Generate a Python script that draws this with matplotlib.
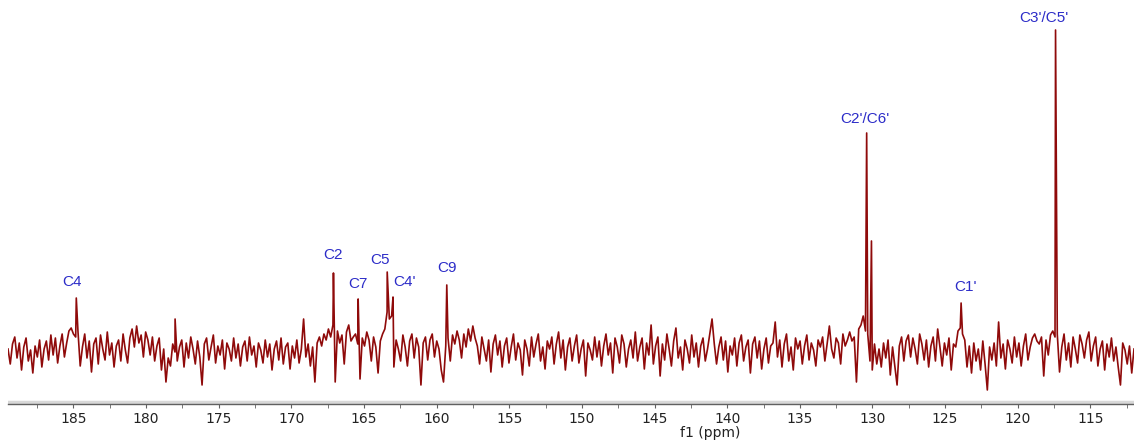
import numpy as np
import matplotlib
matplotlib.use('Agg')
import matplotlib.pyplot as plt
from matplotlib.ticker import MultipleLocator

# 13C NMR spectrum, f1 window (ppm, reversed axis)
ppm_start = 189.5
ppm_end = 112.0

# Baseline noise (pixel-like intensity units, baseline = 0)
noise = [
    3, -12, 8, 15, -6, 9, -18, 5, 14, -9, 2, -21, 6, -5, 12, -15, 3, 11, -8, 17,
    -3, 14, -11, 6, 18, -5, 9, 21, 24, 18, 15, 21, -14, 5, 18, -6, 11, -20, 8, 14,
    -12, 17, 3, -8, 20, -3, 9, -15, 6, 12, -9, 18, 2, -11, 14, 23, 5, 26, 9, 17,
    -5, 20, 12, -3, 15, -9, 6, 14, -18, 3, -30, -6, -14, 8, 0, -9, 5, 12, -15, 9,
    -6, 15, 3, -12, 11, -5, -33, 8, 14, -8, 5, 17, -11, 6, -3, 12, -17, 9, 3, -9,
    14, -6, 8, -14, 5, 11, -9, 15, -3, 6, -15, 9, 2, -11, 12, -5, 8, -18, 3, 11,
    -8, 14, -12, 5, 9, -17, 6, -6, 12, -11, 3, 33, -5, 8, -14, 5, -30, 9, 15, 6,
    18, 12, 23, 15, 27, -30, 21, 9, 17, -12, 20, 27, 11, 15, 18, 8, -27, 14, 6, 20,
    12, -9, 15, 5, -21, 11, 18, 23, 40, 33, 36, -15, 12, 3, -9, 17, 5, -14, 11, 18,
    -6, 14, 5, -33, 9, 15, -8, 12, 18, -5, 11, 3, -18, -30, 6, 14, -9, 17, 8, 21,
    12, -6, 18, 5, 23, 11, 26, 14, 6, -12, 15, 3, -9, 12, -20, 8, 17, -3, 11, -15,
    6, 14, -11, 5, 18, -8, 9, 2, -23, 12, 3, -14, 15, -5, 8, 18, -9, 5, -17, 11,
    3, 15, -12, 8, 20, -6, 12, -18, 5, 14, -9, 6, 17, -11, 3, 12, -24, 9, 2, -8,
    15, -5, 11, -14, 6, 18, -3, 9, -21, 14, 5, -11, 17, 8, -15, 3, 12, -6, 20, -9,
    5, 14, -17, 9, -3, 27, -12, 6, 15, -24, 8, -8, 18, 3, -14, 11, 24, -6, 5, -18,
    12, 3, -11, 17, -5, 9, -15, 6, 14, -9, 3, 18, 33, 8, -12, 5, 15, -8, 11, -20,
    6, -3, 14, -14, 9, 17, -9, 5, 12, -21, 8, 15, -6, 11, -17, 3, 14, -11, 6, 9,
    30, -5, 12, -15, 8, 18, -9, 5, -18, 14, 3, 11, -12, 6, 17, -8, 9, 2, -14, 12,
    5, 15, -9, 8, 26, 3, -6, 14, 9, -12, 18, 6, 12, 20, 11, 15, -30, 23, 27, 36,
    21, 18, -9, -18, 8, -12, 3, -15, 9, -6, 12, -23, 5, -14, -33, 6, 15, -9, 11, 17,
    -5, 14, 3, -12, 18, 8, -8, 12, -15, 6, 15, -9, 23, 5, -14, 9, -3, 14, -18, 8,
    5, 21, 24, 18, 12, -15, 6, -21, 9, -9, 3, -18, 11, -12, -38, 5, -8, 9, -14, 30,
    -6, 8, -17, 12, 3, -11, 15, -5, 9, -14, 6, 18, -8, 5, 14, 18, 11, 8, 15, -24,
    12, -3, 17, 21, 15, 18, -20, 5, 18, -8, 9, -15, 15, 3, -11, 17, 8, -6, 12, 20,
    -9, 6, 15, -14, 3, 11, -18, 8, -5, 14, -9, 5, -15, -33, 9, 2, -12, 6, -21, 3,
]

# Signals: position (ppm) and height
peak_ppm = [184.8, 178.0, 167.1, 165.4, 163.4, 163.0, 159.3, 130.4, 130.07, 123.9, 117.4]
peak_height = [54, 33, 79, 53, 80, 55, 67, 219, 111, 49, 322]

# Assignment labels
labels = ['C4', 'C2', 'C7', 'C5', "C4'", 'C9', "C2'/C6'", "C1'", "C3'/C5'"]
label_ppm = [185.1, 167.1, 165.4, 163.9, 162.2, 159.3, 130.5, 123.6, 118.2]
label_y = [70, 97, 68, 92, 70, 84, 233, 65, 334]

xticks = [185, 180, 175, 170, 165, 160, 155, 150, 145, 140, 135, 130, 125, 120, 115]


def main():
    noise_ppm = np.linspace(ppm_start, ppm_end, len(noise))
    # merge peaks into the noise trace so it is one continuous line
    x = np.concatenate([noise_ppm, peak_ppm])
    y = np.concatenate([noise, peak_height]).astype(float)
    order = np.argsort(-x)
    x = x[order]
    y = y[order]

    fig = plt.figure(figsize=(11.34, 4.41), dpi=100)
    ax = fig.add_axes([8 / 1134, 37 / 441, 1126 / 1134, 404 / 441])
    ax.plot(x, y, color='#8f0a0a', lw=1.2)

    for name, px, py in zip(labels, label_ppm, label_y):
        ax.text(px, py, name, color='#2c2cc8', fontsize=11, family='Liberation Sans',
                ha='center', va='center')

    ax.set_xlim(ppm_start, ppm_end)
    ax.set_ylim(-52, 352)

    # axis styling, spectrum-software look
    for s in ['top', 'left', 'right']:
        ax.spines[s].set_visible(False)
    ax.spines['bottom'].set_color('#606060')
    ax.spines['bottom'].set_linewidth(1.0)
    ax.axhline(-49.5, color='#d8d8d8', lw=2.5)
    ax.set_yticks([])
    ax.set_xticks(xticks)
    ax.xaxis.set_minor_locator(MultipleLocator(2.5))
    ax.tick_params(axis='x', which='both', direction='out', length=3, color='#606060',
                   labelsize=10, labelcolor='#222222', pad=3)
    fig.text(710 / 1134, 1 / 441, 'f1 (ppm)', ha='center', va='bottom',
             fontsize=10, color='#222222')

    fig.savefig('out.png', dpi=100)


if __name__ == "__main__": main()
